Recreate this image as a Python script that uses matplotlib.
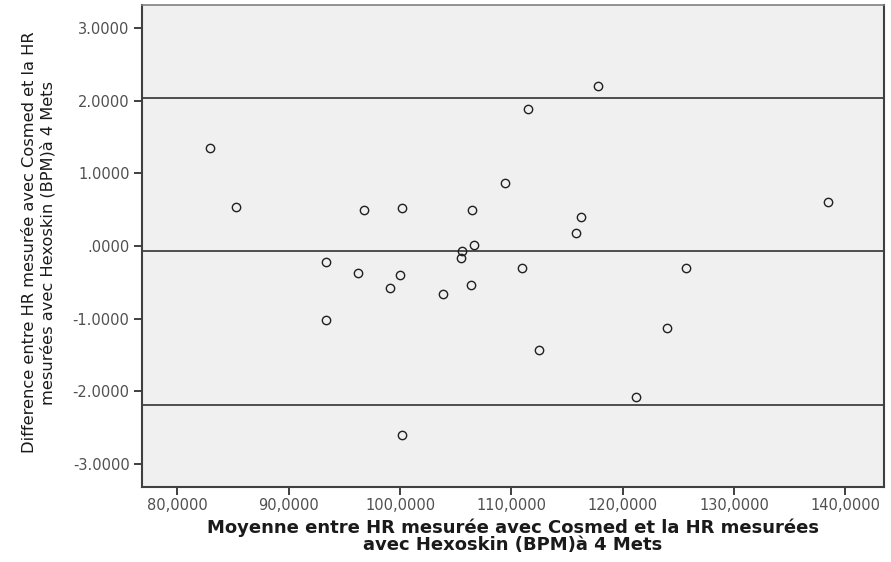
import matplotlib
matplotlib.use("Agg")
import matplotlib.pyplot as plt
import numpy as np

moyenne = [82.93, 85.24, 96.79, 100.15, 106.44, 109.43, 111.53, 117.82, 116.26, 115.81,
           138.48, 106.65, 105.6, 105.48, 93.32, 96.25, 100.0, 99.1, 103.89, 106.35,
           110.93, 125.67, 93.32, 124.02, 112.52, 121.18, 100.15]
difference = [1.344, 0.532, 0.495, 0.527, 0.495, 0.862, 1.889, 2.205, 0.395, 0.183,
              0.609, 0.01, -0.062, -0.161, -0.224, -0.376, -0.399, -0.574, -0.664, -0.536,
              -0.307, -0.307, -1.018, -1.132, -1.431, -2.073, -2.6]

# limites d'accord (biais +/- 1.96 SD)
lim_sup = 2.042
biais = -0.075
lim_inf = -2.192

x_ticks = [80, 90, 100, 110, 120, 130, 140]
x_labels = ["80,0000", "90,0000", "100,0000", "110,0000", "120,0000", "130,0000", "140,0000"]
y_ticks = [3, 2, 1, 0, -1, -2, -3]
y_labels = ["3.0000", "2.0000", "1.0000", ".0000", "-1.0000", "-2.0000", "-3.0000"]

plt.rcParams['font.family'] = ['DejaVu Sans']

fig = plt.figure(figsize=(8.91, 5.62), dpi=100)
ax = fig.add_axes([0.1594, 0.1329, 0.8328, 0.8587])
ax.set_facecolor("#f0f0f0")

for val in [lim_sup, biais, lim_inf]:
    ax.axhline(val, color="#404040", linewidth=1.3, zorder=1)

ax.plot(moyenne, difference, linestyle="none", marker="o", markersize=6,
        markerfacecolor="none", markeredgecolor="#202020", markeredgewidth=1.0, zorder=3)

ax.set_xlim(76.82, 143.49)
ax.set_ylim(-3.32, 3.32)
ax.set_xticks(x_ticks)
ax.set_xticklabels(x_labels)
ax.set_yticks(y_ticks)
ax.set_yticklabels(y_labels)
ax.tick_params(axis="both", direction="out", length=6, width=1.3, color="#303030",
               labelsize=10.5, labelcolor="#505050")
ax.tick_params(axis="x", pad=2)
ax.tick_params(axis="y", pad=3)

for side in ["left", "right", "bottom"]:
    ax.spines[side].set_color("#404040")
    ax.spines[side].set_linewidth(1.5)
ax.spines["top"].set_color("#808080")
ax.spines["top"].set_linewidth(1.2)

ax.set_xlabel("Moyenne entre HR mesurée avec Cosmed et la HR mesurées\navec Hexoskin (BPM)à 4 Mets",
              fontsize=13, fontweight="bold", color="#1a1a1a", linespacing=0.95)
ax.xaxis.set_label_coords(0.5, -0.064)
ax.xaxis.label.set_va("top")
ax.set_ylabel("Difference entre HR mesurée avec Cosmed et la HR\nmesurées avec Hexoskin (BPM)à 4 Mets",
              fontsize=11.7, color="#1a1a1a", linespacing=1.25)
ax.yaxis.set_label_coords(-0.117, 0.507)

fig.savefig("out.png", dpi=100)
